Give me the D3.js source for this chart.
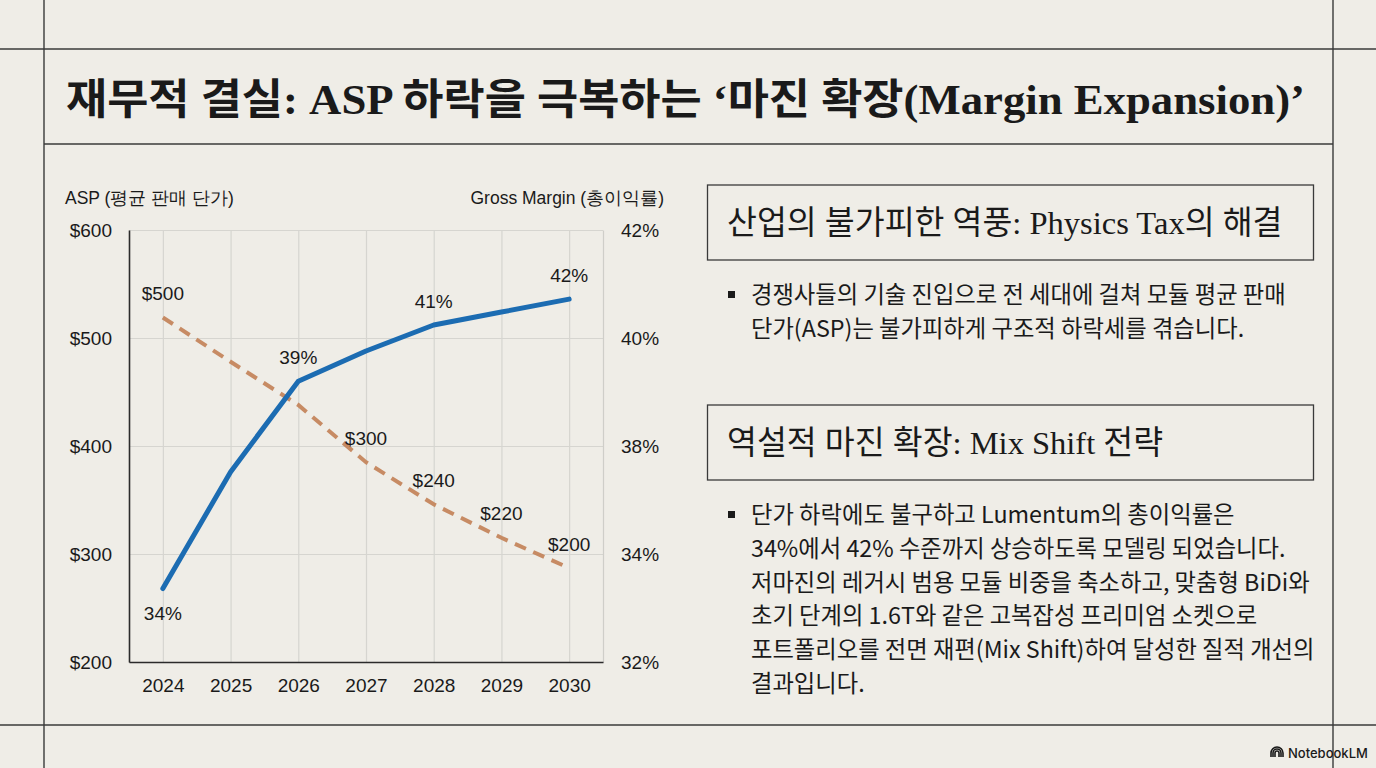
<!DOCTYPE html>
<html>
<head>
<meta charset="utf-8">
<script src="https://cdn.jsdelivr.net/npm/d3@7"></script>
<style>
  body { margin: 0; background: #efede7; overflow: hidden; }
  text { fill: #1a1a1a; }
</style>
</head>
<body>
<div id="container"></div>
<script>
// chart data
const years = ["2024", "2025", "2026", "2027", "2028", "2029", "2030"];
const asp = [519, 478, 438, 385, 346, 315, 287];
const aspLabels = ["$500", "", "", "$300", "$240", "$220", "$200"];
const grossMargin = [33.7, 36.4, 38.5, 39.2, 39.8, 40.1, 40.4];
const marginLabels = ["34%", "", "39%", "", "41%", "", "42%"];
const aspTicks = [200, 300, 400, 500, 600];
const marginTickLabels = ["32%", "34%", "38%", "40%", "42%"];

const pageTitle = "재무적 결실: ASP 하락을 극복하는 ‘마진 확장(Margin Expansion)’";
const leftAxisTitle = "ASP (평균 판매 단가)";
const rightAxisTitle = "Gross Margin (총이익률)";
const boxTitles = ["산업의 불가피한 역풍: Physics Tax의 해결", "역설적 마진 확장: Mix Shift 전략"];
const bulletLines = [
  ["경쟁사들의 기술 진입으로 전 세대에 걸쳐 모듈 평균 판매",
   "단가(ASP)는 불가피하게 구조적 하락세를 겪습니다."],
  ["단가 하락에도 불구하고 Lumentum의 총이익률은",
   "34%에서 42% 수준까지 상승하도록 모델링 되었습니다.",
   "저마진의 레거시 범용 모듈 비중을 축소하고, 맞춤형 BiDi와",
   "초기 단계의 1.6T와 같은 고복잡성 프리미엄 소켓으로",
   "포트폴리오를 전면 재편(Mix Shift)하여 달성한 질적 개선의",
   "결과입니다."]
];

let w = 1376;
let h = 768;
let viz = d3.select("#container")
  .append("svg")
    .attr("width", w)
    .attr("height", h)
    .style("background", "#efede7")
;

const sans = "'Liberation Sans', Arial, sans-serif";
const kr = "'Noto Sans CJK KR', sans-serif";
const serifKr = "'Liberation Serif', 'Noto Sans CJK KR', serif";

// frame lines of the slide
let frame = viz.append("g").attr("stroke", "#3a3a3a").attr("stroke-width", 1.4);
frame.append("line").attr("x1", 0).attr("x2", w).attr("y1", 49).attr("y2", 49);
frame.append("line").attr("x1", 44).attr("x2", 1333).attr("y1", 144).attr("y2", 144);
frame.append("line").attr("x1", 0).attr("x2", w).attr("y1", 725).attr("y2", 725);
frame.append("line").attr("x1", 44).attr("x2", 44).attr("y1", 0).attr("y2", h);
frame.append("line").attr("x1", 1333).attr("x2", 1333).attr("y1", 0).attr("y2", h);

// title, stretched to the width it has on the slide
let title = viz.append("text")
    .attr("x", 66)
    .attr("y", 114)
    .attr("font-family", serifKr)
    .attr("font-size", 42)
    .attr("font-weight", 700)
    .attr("textLength", 1239)
    .attr("lengthAdjust", "spacingAndGlyphs")
    .text(pageTitle)
;

// ---- chart ----
const plotLeft = 129, plotRight = 603, plotTop = 230, plotBottom = 662;

let x = d3.scalePoint().domain(years).range([plotLeft, plotRight]).padding(0.5);
let yAsp = d3.scaleLinear().domain([200, 600]).range([plotBottom, plotTop]);
let yMargin = d3.scaleLinear().domain([32, 42]).range([plotBottom, plotTop]);
let yMarginAxis = d3.scalePoint().domain(marginTickLabels).range([plotBottom, plotTop]);

let points = years.map((yr, i) => ({
  year: yr,
  asp: asp[i],
  aspLabel: aspLabels[i],
  margin: grossMargin[i],
  marginLabel: marginLabels[i]
}));

let chart = viz.append("g").attr("class", "chart");

function styleText(g, size) {
  g.selectAll("text")
      .attr("font-family", sans)
      .attr("font-size", size)
      .attr("fill", "#1a1a1a");
}

// grid
chart.append("g")
    .attr("transform", "translate(" + plotLeft + ",0)")
    .call(d3.axisLeft(yAsp).tickValues(aspTicks).tickSize(-(plotRight - plotLeft)).tickFormat(""))
    .call(g => g.select(".domain").remove())
    .call(g => g.selectAll("line").attr("stroke", "#d6d5d0").attr("stroke-width", 1.2))
;
chart.append("g")
    .attr("transform", "translate(0," + plotBottom + ")")
    .call(d3.axisBottom(x).tickSize(-(plotBottom - plotTop)).tickFormat(""))
    .call(g => g.select(".domain").remove())
    .call(g => g.selectAll("line").attr("stroke", "#d6d5d0").attr("stroke-width", 1.2))
;

// right axis (light border)
chart.append("g")
    .attr("transform", "translate(" + plotRight + ",0)")
    .call(d3.axisRight(yMarginAxis).tickSize(0).tickSizeOuter(0).tickPadding(18))
    .call(g => g.select(".domain").attr("stroke", "#cfcec9").attr("stroke-width", 1.2))
    .call(g => styleText(g, 19))
;

// left axis
chart.append("g")
    .attr("transform", "translate(" + plotLeft + ",0)")
    .call(d3.axisLeft(yAsp).tickValues(aspTicks).tickSize(0).tickSizeOuter(0).tickPadding(17)
      .tickFormat(d => "$" + d))
    .call(g => g.select(".domain").attr("stroke", "#2b2b2b").attr("stroke-width", 1.6))
    .call(g => styleText(g, 19))
;

// bottom axis
chart.append("g")
    .attr("transform", "translate(0," + plotBottom + ")")
    .call(d3.axisBottom(x).tickSize(0).tickSizeOuter(0).tickPadding(17))
    .call(g => g.select(".domain").attr("stroke", "#2b2b2b").attr("stroke-width", 1.6))
    .call(g => styleText(g, 19))
;

// axis titles
chart.append("text")
    .attr("x", 65).attr("y", 204)
    .attr("font-family", sans).attr("font-size", 17.5)
    .text(leftAxisTitle)
;
chart.append("text")
    .attr("x", 664).attr("y", 204)
    .attr("text-anchor", "end")
    .attr("font-family", sans).attr("font-size", 17.5)
    .text(rightAxisTitle)
;

// lines
let aspLine = d3.line().x(d => x(d.year)).y(d => yAsp(d.asp));
let marginLine = d3.line().x(d => x(d.year)).y(d => yMargin(d.margin));

chart.append("path")
    .datum(points)
    .attr("d", aspLine)
    .attr("fill", "none")
    .attr("stroke", "#c4865d")
    .attr("stroke-width", 4)
    .attr("stroke-dasharray", "12,8")
    .attr("opacity", 0.95)
;
chart.append("path")
    .datum(points)
    .attr("d", marginLine)
    .attr("fill", "none")
    .attr("stroke", "#1c6cb2")
    .attr("stroke-width", 5)
    .attr("stroke-linecap", "round")
    .attr("stroke-linejoin", "round")
;

// value labels
chart.selectAll(".aspLabel").data(points.filter(d => d.aspLabel !== "")).enter()
  .append("text")
    .attr("class", "aspLabel")
    .attr("x", d => x(d.year))
    .attr("y", d => yAsp(d.asp) - 24)
    .attr("dy", "0.35em")
    .attr("text-anchor", "middle")
    .attr("font-family", sans).attr("font-size", 19)
    .text(d => d.aspLabel)
;
chart.selectAll(".marginLabel").data(points.filter(d => d.marginLabel !== "")).enter()
  .append("text")
    .attr("class", "marginLabel")
    .attr("x", d => x(d.year))
    // below the line where the blue line runs under the dashed one
    .attr("y", d => yMargin(d.margin) > yAsp(d.asp) ? yMargin(d.margin) + 25 : yMargin(d.margin) - 24)
    .attr("dy", "0.35em")
    .attr("text-anchor", "middle")
    .attr("font-family", sans).attr("font-size", 19)
    .text(d => d.marginLabel)
;

// ---- right panel ----
let panel = viz.append("g").attr("class", "panel");
const boxTop = [185, 405];
const lineStart = [295, 515];

boxTitles.forEach(function(t, k) {
  panel.append("rect")
      .attr("x", 707.5).attr("y", boxTop[k])
      .attr("width", 606).attr("height", 75)
      .attr("fill", "none")
      .attr("stroke", "#3a3a3a")
      .attr("stroke-width", 1.3)
  ;
  panel.append("text")
      .attr("x", 727).attr("y", boxTop[k] + 49)
      .attr("font-family", serifKr)
      .attr("font-size", 32.5)
      .text(t)
  ;
  panel.append("rect")
      .attr("x", 728).attr("y", lineStart[k] - 4)
      .attr("width", 7).attr("height", 7)
      .attr("fill", "#1a1a1a")
  ;
  bulletLines[k].forEach(function(line, j) {
    panel.append("text")
        .attr("x", 751)
        .attr("y", lineStart[k] + j * 33.7)
        .attr("dy", "0.36em")
        .attr("font-family", kr)
        .attr("font-size", 23.3)
        .text(line)
    ;
  });
});

// NotebookLM mark
let mark = viz.append("g").attr("transform", "translate(1277,753)");
[6, 4, 2].forEach(function(r) {
  mark.append("path")
      .attr("d", "M" + (-r) + " 4 V0 A" + r + " " + r + " 0 0 1 " + r + " 0 V4")
      .attr("fill", "none")
      .attr("stroke", "#1a1a1a")
      .attr("stroke-width", 1.6)
  ;
});
mark.append("text")
    .attr("x", 11).attr("y", 0)
    .attr("dy", "0.36em")
    .attr("font-family", "'Inter', 'Roboto', sans-serif")
    .attr("font-size", 13)
    .attr("font-weight", 500)
    .text("NotebookLM")
;
</script>
</body>
</html>
